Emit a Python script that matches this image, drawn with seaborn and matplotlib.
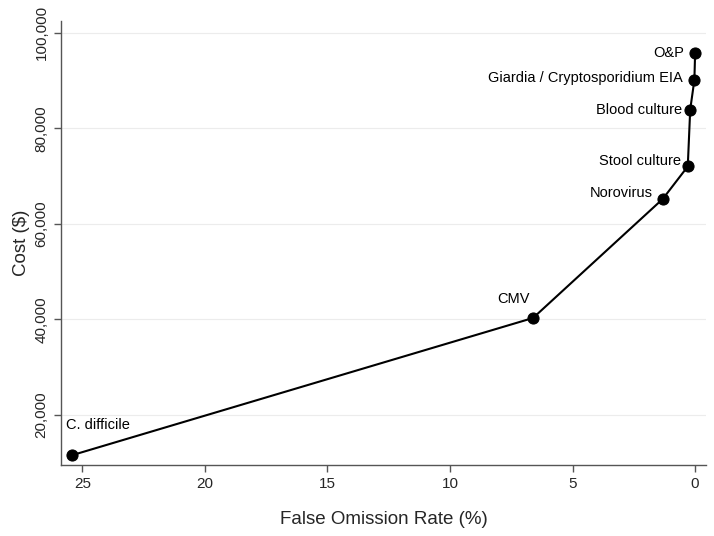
import pandas as pd
import matplotlib
matplotlib.use("Agg")
import matplotlib.pyplot as plt
import seaborn as sns

# data
tests = ["C. difficile", "CMV", "Norovirus", "Stool culture", "Blood culture",
         "Giardia / Cryptosporidium EIA", "O&P"]
false_omission = [25.41, 6.61, 1.32, 0.30, 0.20, 0.03, 0.0]
cost = [11600, 40300, 65200, 72000, 83900, 90100, 95700]

df = pd.DataFrame({"Test": tests, "FOR": false_omission, "Cost": cost})

# label placement (offset in pixels from the point, alignment)
label_offsets = {
    "C. difficile": (-6, 30, "left"),
    "CMV": (-20, 19, "center"),
    "Norovirus": (-10, 6, "right"),
    "Stool culture": (-7, 5, "right"),
    "Blood culture": (-8, 0, "right"),
    "Giardia / Cryptosporidium EIA": (-12, 2, "right"),
    "O&P": (-11, 0, "right"),
}

sns.set_style("white")
plt.rcParams["font.family"] = ["Liberation Sans", "DejaVu Sans"]

fig = plt.figure(figsize=(7.14, 5.36), dpi=100)
ax = fig.add_axes([0.0854, 0.1325, 0.9036, 0.8285])

sns.lineplot(data=df, x="FOR", y="Cost", sort=False, color="black",
             linewidth=1.5, marker="o", markersize=8, markeredgecolor="black",
             ax=ax)

for t, x, y in zip(df["Test"], df["FOR"], df["Cost"]):
    dx, dy, ha = label_offsets[t]
    ax.annotate(t, (x, y), xytext=(dx, dy), textcoords="offset pixels",
                ha=ha, va="center", fontsize=10.5, color="black")

ax.set_xlim(25.87, -0.45)
ax.set_ylim(9540, 102450)
ax.set_xticks([25, 20, 15, 10, 5, 0])
ax.set_yticks([20000, 40000, 60000, 80000, 100000])
ax.set_yticklabels([f"{v:,}" for v in [20000, 40000, 60000, 80000, 100000]],
                   rotation=90, va="center")
ax.yaxis.grid(True, color="#ececec", linewidth=0.8)
ax.xaxis.grid(False)

for side in ["top", "right"]:
    ax.spines[side].set_visible(False)
for side in ["left", "bottom"]:
    ax.spines[side].set_color("#555555")
    ax.spines[side].set_linewidth(1.0)

ax.tick_params(axis="both", direction="out", length=5, width=1, color="#555555",
               labelsize=11, pad=4, bottom=True, left=True)

ax.set_xlabel("False Omission Rate (%)", fontsize=13.5, labelpad=14)
ax.set_ylabel("Cost ($)", fontsize=13.5, labelpad=3)

fig.savefig("out.png", dpi=100)
